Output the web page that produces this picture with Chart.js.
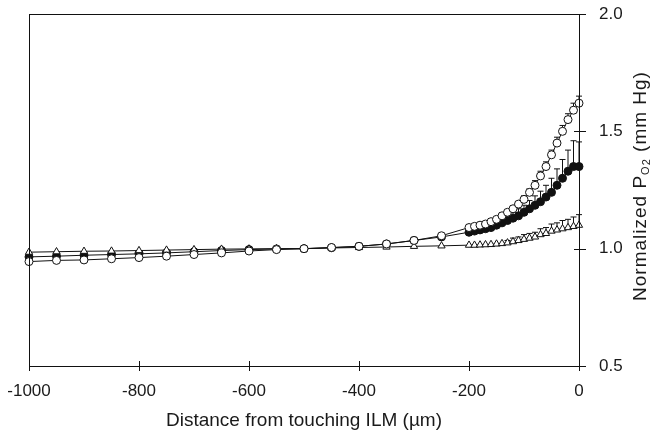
<!DOCTYPE html>
<html>
<head>
<meta charset="utf-8">
<script src="https://cdn.jsdelivr.net/npm/chart.js@4.4.1/dist/chart.umd.min.js"></script>
<style>
  html, body { margin: 0; padding: 0; background: #fff; }
  #wrap { width: 654px; height: 437px; position: relative; }
</style>
</head>
<body>
<div id="wrap"><canvas id="po2Chart"></canvas></div>
<script>
// distances (µm): every 50 out to -200, then every 10 up to the ILM
const distances = [-1000, -950, -900, -850, -800, -750, -700, -650, -600, -550, -500, -450, -400, -350, -300, -250, -200,
  -190, -180, -170, -160, -150, -140, -130, -120, -110, -100, -90, -80, -70, -60, -50, -40, -30, -20, -10, 0];

const openCircle = [0.945, 0.95, 0.952, 0.957, 0.962, 0.968, 0.975, 0.982, 0.99, 0.996, 1.0, 1.005, 1.01, 1.02, 1.035, 1.055, 1.09,
  1.095, 1.10, 1.105, 1.115, 1.125, 1.14, 1.155, 1.17, 1.19, 1.21, 1.24, 1.27, 1.31, 1.35, 1.40, 1.45, 1.50, 1.55, 1.59, 1.62];
const openCircleErr = [0, 0, 0, 0, 0, 0, 0, 0, 0, 0, 0, 0, 0, 0, 0, 0, 0,
  0, 0, 0, 0, 0, 0, 0.01, 0.01, 0.01, 0.015, 0.015, 0.02, 0.02, 0.02, 0.02, 0.025, 0.025, 0.025, 0.03, 0.03];

const filledCircle = [0.965, 0.968, 0.972, 0.975, 0.978, 0.982, 0.987, 0.992, 0.996, 0.999, 1.0, 1.004, 1.01, 1.02, 1.035, 1.05, 1.07,
  1.075, 1.08, 1.085, 1.09, 1.10, 1.11, 1.12, 1.13, 1.14, 1.155, 1.17, 1.185, 1.20, 1.22, 1.24, 1.27, 1.30, 1.33, 1.35, 1.35];
const filledCircleErr = [0, 0, 0, 0, 0, 0, 0, 0, 0, 0, 0, 0, 0, 0, 0, 0, 0,
  0.01, 0.01, 0.012, 0.015, 0.015, 0.02, 0.02, 0.025, 0.03, 0.03, 0.035, 0.04, 0.045, 0.05, 0.06, 0.07, 0.08, 0.09, 0.11, 0.105];

const openTriangle = [0.985, 0.987, 0.989, 0.99, 0.992, 0.994, 0.996, 0.998, 0.999, 1.0, 1.0, 1.003, 1.005, 1.007, 1.01, 1.012, 1.015,
  1.015, 1.016, 1.017, 1.018, 1.02, 1.022, 1.025, 1.03, 1.035, 1.04, 1.045, 1.05, 1.06, 1.065, 1.075, 1.08, 1.085, 1.09, 1.095, 1.10];
const openTriangleErr = [0, 0, 0, 0, 0, 0, 0, 0, 0, 0, 0, 0, 0, 0, 0, 0, 0,
  0, 0, 0, 0, 0, 0, 0.01, 0.015, 0.015, 0.02, 0.02, 0.02, 0.025, 0.025, 0.03, 0.03, 0.035, 0.035, 0.04, 0.045];

const xTicks = [-1000, -800, -600, -400, -200, 0];
const yTicks = [0.5, 1.0, 1.5, 2.0];

const INK = '#111';
const TEXT = '#1a1a1a';
const FONT = '"Liberation Sans", Arial, sans-serif';

function toPoints(vals) {
  return distances.map((d, i) => ({ x: d, y: vals[i] }));
}

// keep the plot box where the reference has it, labels may overhang
function noOverhang(s) {
  s.paddingLeft = 0;
  s.paddingRight = 0;
  s.paddingTop = 0;
  s.paddingBottom = 0;
}

// upward-only error bars, under the markers
const errorBars = {
  id: 'errorBars',
  beforeDatasetsDraw(chart) {
    const { ctx, scales: { x, y } } = chart;
    ctx.save();
    ctx.strokeStyle = INK;
    ctx.lineWidth = 1;
    chart.data.datasets.forEach(ds => {
      if (!ds.errors) return;
      ds.data.forEach((p, i) => {
        const e = ds.errors[i];
        if (!e) return;
        const px = x.getPixelForValue(p.x);
        const py = y.getPixelForValue(p.y);
        const top = y.getPixelForValue(p.y + e);
        ctx.beginPath();
        ctx.moveTo(px, py);
        ctx.lineTo(px, top);
        ctx.moveTo(px - 3, top);
        ctx.lineTo(px + 3, top);
        ctx.stroke();
      });
    });
    ctx.restore();
  }
};

// box frame, crossing tick marks and the right-hand axis title
const frame = {
  id: 'frame',
  afterDraw(chart) {
    const { ctx, chartArea: a, scales: { x, y } } = chart;
    ctx.save();
    ctx.strokeStyle = INK;
    ctx.lineWidth = 1;
    ctx.strokeRect(Math.round(a.left) + 0.5, Math.round(a.top) + 0.5,
      Math.round(a.right - a.left), Math.round(a.bottom - a.top));
    ctx.beginPath();
    xTicks.forEach(v => {
      const px = Math.round(x.getPixelForValue(v)) + 0.5;
      ctx.moveTo(px, a.bottom - 5);
      ctx.lineTo(px, a.bottom + 5);
    });
    yTicks.forEach(v => {
      const py = Math.round(y.getPixelForValue(v)) + 0.5;
      ctx.moveTo(a.right - 5, py);
      ctx.lineTo(a.right + 7, py);
    });
    ctx.stroke();

    // "Normalized PO2 (mm Hg)" reading bottom to top
    ctx.translate(641, 186);
    ctx.rotate(-Math.PI / 2);
    ctx.fillStyle = TEXT;
    ctx.textBaseline = 'middle';
    const big = '19px ' + FONT, small = '11px ' + FONT;
    const parts = [['Normalized P', big, 0], ['O', small, 5], ['2', small, 6], [' (mm Hg)', big, 0]];
    ctx.letterSpacing = '1px';
    let w = 0;
    parts.forEach(([t, f]) => { ctx.font = f; w += ctx.measureText(t).width; });
    let cx = -w / 2;
    parts.forEach(([t, f, dy]) => {
      ctx.font = f;
      ctx.fillText(t, cx, dy);
      cx += ctx.measureText(t).width;
    });
    ctx.restore();
  }
};

new Chart(document.getElementById('po2Chart'), {
  type: 'line',
  data: {
    datasets: [
      {
        label: 'filled',
        data: toPoints(filledCircle),
        errors: filledCircleErr,
        pointStyle: 'circle',
        pointRadius: 4,
        backgroundColor: INK,
        pointBackgroundColor: INK,
        order: 3
      },
      {
        label: 'triangle',
        data: toPoints(openTriangle),
        errors: openTriangleErr,
        pointStyle: 'triangle',
        pointRadius: 4.2,
        pointBackgroundColor: '#fff',
        order: 2
      },
      {
        label: 'open',
        data: toPoints(openCircle),
        errors: openCircleErr,
        pointStyle: 'circle',
        pointRadius: 4,
        pointBackgroundColor: '#fff',
        order: 1
      }
    ].map(ds => Object.assign({
      borderColor: INK,
      borderWidth: 1,
      pointBorderColor: INK,
      pointBorderWidth: 1,
      tension: 0,
      clip: false
    }, ds))
  },
  options: {
    responsive: true,
    maintainAspectRatio: false,
    animation: false,
    layout: { padding: { left: 29, top: 14, right: 0, bottom: 0 } },
    plugins: {
      legend: { display: false },
      tooltip: { enabled: false }
    },
    scales: {
      x: {
        type: 'linear',
        min: -1000,
        max: 0,
        afterFit: s => { s.height = 71; noOverhang(s); },
        afterBuildTicks: s => { s.ticks = xTicks.map(v => ({ value: v })); },
        grid: { display: false },
        border: { display: false },
        ticks: {
          color: TEXT,
          font: { family: FONT, size: 17 },
          padding: 7,
          maxRotation: 0,
          callback: v => String(v)
        },
        title: {
          display: true,
          text: 'Distance from touching ILM (µm)',
          color: TEXT,
          font: { family: FONT, size: 19 },
          padding: { top: 0, bottom: 5 }
        }
      },
      y: {
        type: 'linear',
        position: 'right',
        min: 0.5,
        max: 2.0,
        afterFit: s => { s.width = 75; noOverhang(s); },
        afterBuildTicks: s => { s.ticks = yTicks.map(v => ({ value: v })); },
        grid: { display: false },
        border: { display: false },
        ticks: {
          color: TEXT,
          font: { family: FONT, size: 17 },
          padding: 12,
          callback: v => v.toFixed(1)
        }
      }
    }
  },
  plugins: [errorBars, frame]
});
</script>
</body>
</html>
